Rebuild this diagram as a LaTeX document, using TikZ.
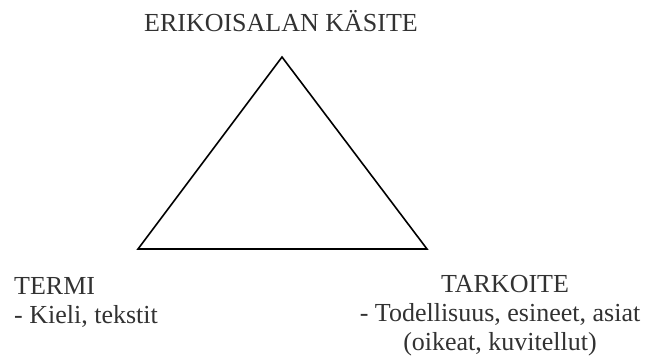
\documentclass[tikz,border=0pt]{standalone}
\usepackage{fontspec}
\setmainfont{Liberation Serif}
\definecolor{txt}{RGB}{50,50,50}
\begin{document}
\begin{tikzpicture}[x=1pt,y=-1pt,
  lbl/.style={font=\fontsize{26}{29}\selectfont, text=txt, inner sep=0pt},
  tri/.style={draw=black, line width=1.6pt, line join=miter}]
\useasboundingbox (0,0) rectangle (647,360);
\coordinate (apex) at (282,57);
\coordinate (bl) at (138,249);
\coordinate (br) at (427,249);
\draw[tri] (apex) -- (bl) -- (br) -- cycle;
\node[lbl, anchor=base] (top) at (281,31.5) {ERIKOISALAN KÄSITE};
\node[lbl, anchor=base west, align=left] (termi) at (14,323) {TERMI\\- Kieli, tekstit};
\node[lbl, anchor=base, align=center] (tarkoite) at (500,350.5) {\hspace*{10pt}TARKOITE\\- Todellisuus, esineet, asiat\\(oikeat, kuvitellut)};
\end{tikzpicture}
\end{document}
